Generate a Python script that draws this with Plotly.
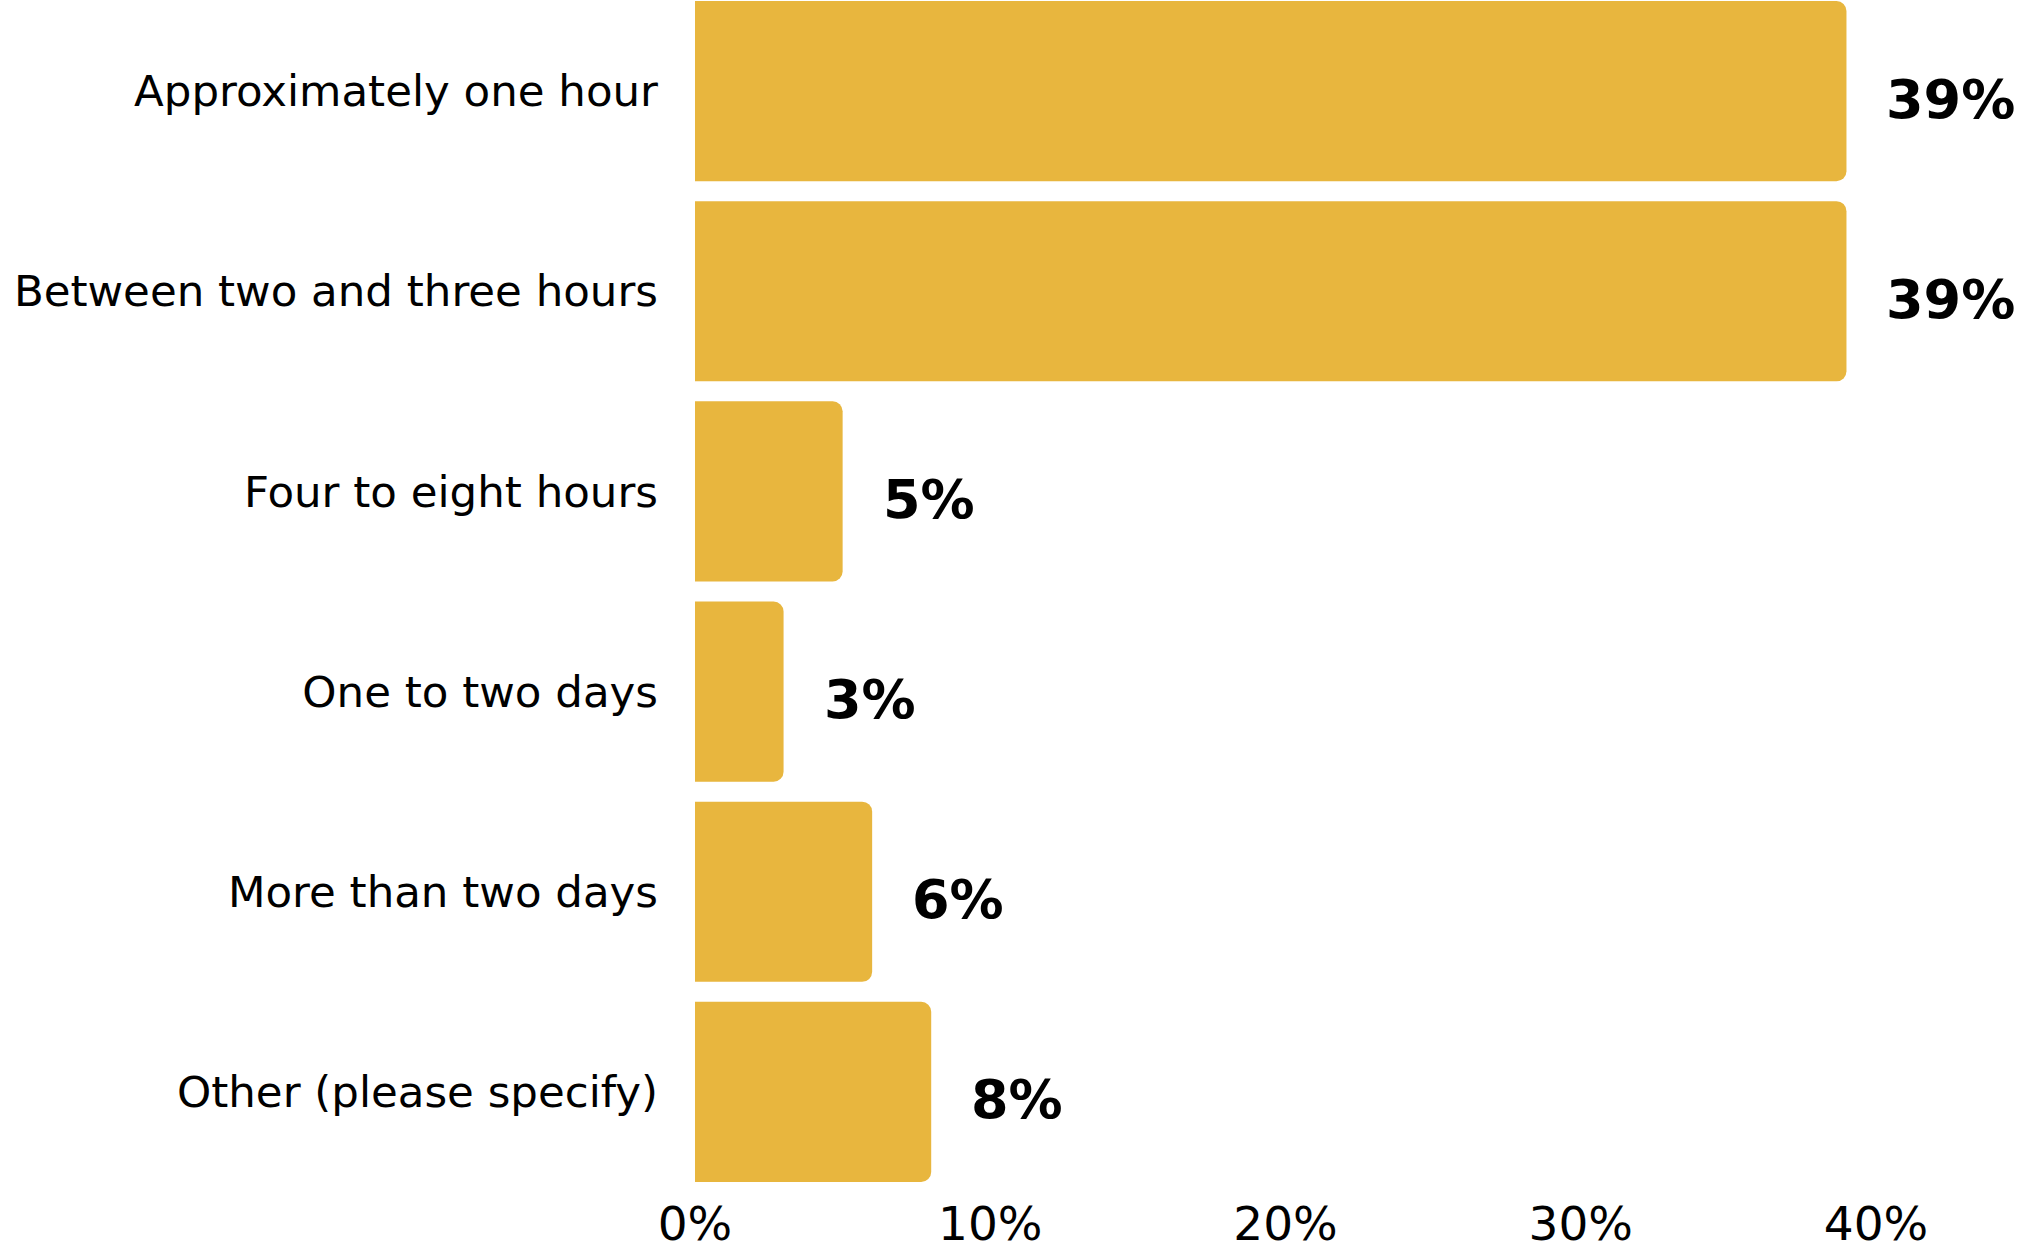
import plotly.graph_objects as go

categories = [
    "Approximately one hour",
    "Between two and three hours",
    "Four to eight hours",
    "One to two days",
    "More than two days",
    "Other (please specify)",
]
values = [39, 39, 5, 3, 6, 8]
tick_values = [0, 10, 20, 30, 40]
tick_labels = ["0%", "10%", "20%", "30%", "40%"]

BAR_COLOR = "#E8B63E"

fig = go.Figure(
    go.Bar(
        x=values,
        y=categories,
        orientation="h",
        marker=dict(color=BAR_COLOR, line=dict(width=0), cornerradius=10),
        hoverinfo="skip",
    )
)

for cat, v in zip(categories, values):
    fig.add_annotation(
        x=v,
        y=cat,
        text=f"<b>{v}%</b>",
        showarrow=False,
        xanchor="left",
        yanchor="middle",
        xshift=38,
        yshift=-8,
        font=dict(family="DejaVu Sans", size=54, color="#000000"),
    )

fig.update_layout(
    width=2025,
    height=1252,
    margin=dict(l=695, r=149, t=0, b=60),
    paper_bgcolor="white",
    plot_bgcolor="white",
    bargap=0.1,
    showlegend=False,
    font=dict(family="DejaVu Sans", color="#000000"),
)

fig.update_xaxes(
    range=[0, 40],
    tickvals=tick_values,
    ticktext=tick_labels,
    showgrid=False,
    zeroline=False,
    showline=False,
    ticks="",
    automargin=False,
    ticklabelstandoff=0,
    tickfont=dict(family="DejaVu Sans", size=47, color="#000000"),
)

fig.update_yaxes(
    categoryorder="array",
    categoryarray=categories,
    range=[5.5, -0.455],
    showgrid=False,
    zeroline=False,
    showline=False,
    ticks="",
    automargin=False,
    ticklabelstandoff=36,
    tickfont=dict(family="DejaVu Sans", size=43.5, color="#000000"),
)

fig.write_html(
    "out.html",
    config={"displayModeBar": False},
    post_script="document.body.style.margin='0';document.body.style.overflow='hidden';",
)
